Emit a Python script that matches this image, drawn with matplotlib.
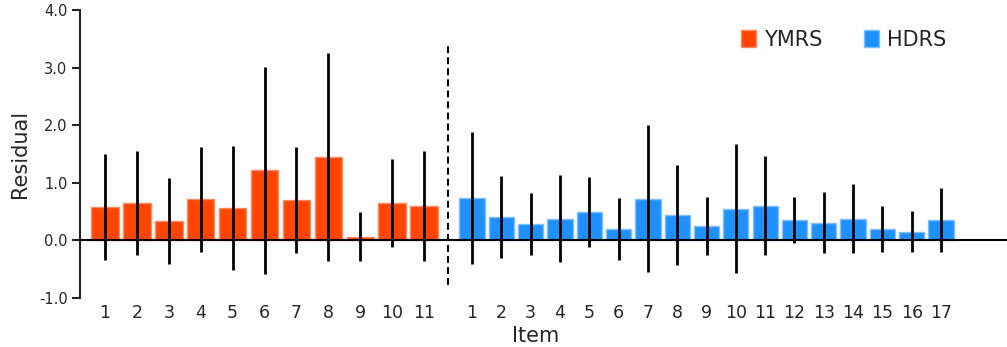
import matplotlib
matplotlib.use("Agg")
import matplotlib.pyplot as plt
from matplotlib.patches import Patch
import numpy as np

# ---- data ----
ymrs_items = [str(i) for i in range(1, 12)]
ymrs_mean = [0.58, 0.655, 0.33, 0.713, 0.556, 1.217, 0.696, 1.443, 0.064, 0.649, 0.591]
ymrs_sd = [0.928, 0.905, 0.745, 0.907, 1.076, 1.794, 0.919, 1.809, 0.429, 0.771, 0.957]

hdrs_items = [str(i) for i in range(1, 18)]
hdrs_mean = [0.736, 0.406, 0.284, 0.377, 0.499, 0.191, 0.725, 0.435, 0.255, 0.551,
             0.603, 0.354, 0.307, 0.377, 0.197, 0.151, 0.348]
hdrs_sd = [1.142, 0.719, 0.531, 0.76, 0.609, 0.537, 1.273, 0.87, 0.502, 1.116,
           0.861, 0.397, 0.525, 0.595, 0.394, 0.357, 0.554]

y_ticks = [-1.0, 0.0, 1.0, 2.0, 3.0, 4.0]

c_ymrs = "#FF4500"
c_hdrs = "#1E90FF"
txt = "#262626"

W, H = 1007, 347
fig = plt.figure(figsize=(W / 100, H / 100), dpi=100)
bottom = 49 / H
height = 288 / H
ax1 = fig.add_axes([80 / W, bottom, (448 - 80) / W, height])
ax2 = fig.add_axes([448 / W, bottom, (1007 - 448) / W, height], sharey=ax1)

def draw(ax, items, mean, sd, color, edge):
    x = np.arange(1, len(items) + 1)
    ax.bar(x, mean, width=0.86, color=color, edgecolor=edge, linewidth=1.0, zorder=2)
    ax.errorbar(x, mean, yerr=sd, fmt="none", ecolor="black", elinewidth=2.0,
                capsize=0, zorder=3)
    ax.axhline(0, color="black", lw=1.5, zorder=4)
    ax.set_xticks(x)
    ax.set_xticklabels(items, fontsize=12.5, color=txt)
    ax.tick_params(axis="x", length=0, pad=4)
    for s in ["top", "right", "bottom"]:
        ax.spines[s].set_visible(False)

draw(ax1, ymrs_items, ymrs_mean, ymrs_sd, c_ymrs, "#FF8A66")
draw(ax2, hdrs_items, hdrs_mean, hdrs_sd, c_hdrs, "#7FBFFF")

ax1.set_xlim(0.216, 11.75)
ax2.set_xlim(0.181, 19.25)
ax1.set_ylim(-1.0, 4.0)
ax1.set_yticks(y_ticks)
ax1.set_yticklabels([f"{v:.1f}" for v in y_ticks], fontsize=10.5, color=txt)
ax1.tick_params(axis="y", length=6, width=1.5, color=txt, pad=3)
ax1.spines["left"].set_color(txt)
ax1.spines["left"].set_linewidth(1.5)
ax1.set_ylabel("Residual", fontsize=15, color=txt, labelpad=6)

ax2.spines["left"].set_visible(False)
ax2.tick_params(axis="y", left=False, labelleft=False)

# separator
ax2.axvline(ax2.get_xlim()[0], ymin=0.045, ymax=0.885, color="black", lw=1.5,
            linestyle=(0, (3.3, 2)), clip_on=False, zorder=5)

fig.text(536 / W, 1 - 336 / H, "Item", fontsize=15, color=txt, ha="center", va="center")

handles = [Patch(facecolor=c_ymrs, edgecolor="#FF8A66", label="YMRS"),
           Patch(facecolor=c_hdrs, edgecolor="#7FBFFF", label="HDRS")]
fig.legend(handles=handles, loc="center", bbox_to_anchor=(844 / W, 1 - 40 / H),
           ncol=2, frameon=False, fontsize=15, handlelength=0.7, handleheight=0.85,
           handletextpad=0.4, columnspacing=2.0, labelcolor=txt)

fig.savefig("out.png", dpi=100)
